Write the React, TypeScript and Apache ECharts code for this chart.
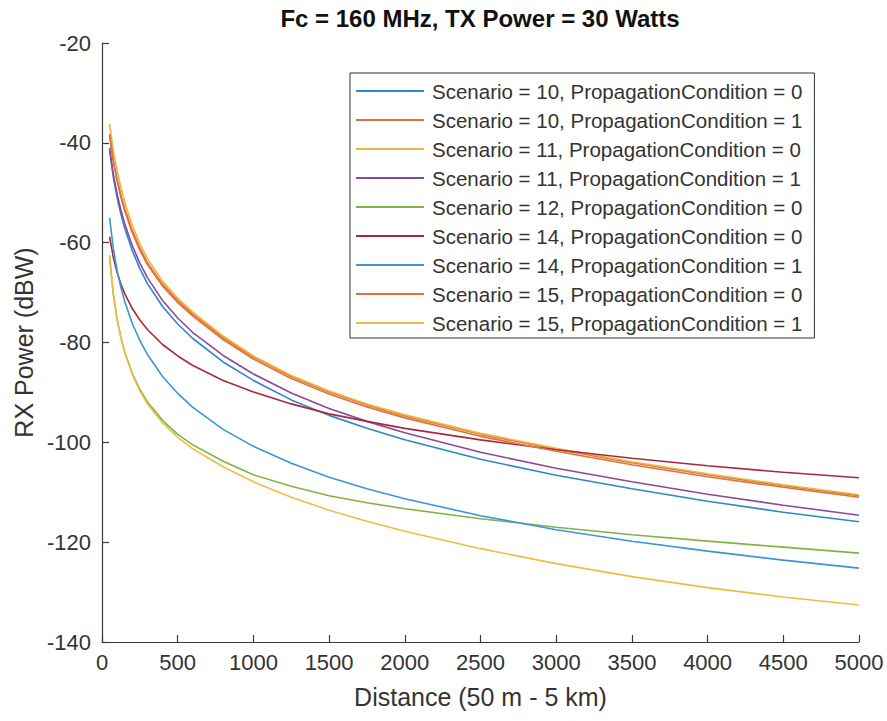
import React, { useEffect, useRef } from "react";
import * as echarts from "echarts";

const distances = [50, 75, 100, 125, 150, 200, 250, 300, 400, 500, 600, 800, 1000, 1250, 1500, 1750, 2000, 2500, 3000, 3500, 4000, 4500, 5000];

const s10pc0 = [-41.5, -46.9, -51.0, -54.3, -57.1, -61.6, -65.2, -68.2, -72.8, -76.3, -79.2, -83.9, -87.6, -91.5, -94.6, -97.2, -99.5, -103.4, -106.6, -109.3, -111.8, -114.0, -115.9];
const s10pc1 = [-38.5, -43.6, -47.4, -50.6, -53.2, -57.6, -61.1, -64.0, -68.3, -71.6, -74.3, -79.0, -82.9, -86.8, -89.9, -92.5, -94.7, -98.4, -101.4, -104.1, -106.5, -108.7, -110.7];
const s11pc0 = [-36.2, -41.6, -45.6, -49.0, -51.9, -56.5, -60.2, -63.2, -67.7, -71.1, -73.9, -78.7, -82.7, -86.6, -89.7, -92.3, -94.5, -98.2, -101.2, -103.9, -106.3, -108.5, -110.5];
const s11pc1 = [-41.0, -46.3, -50.3, -53.5, -56.2, -60.6, -64.1, -67.0, -71.6, -75.1, -78.0, -82.6, -86.3, -90.1, -93.2, -95.8, -98.1, -102.0, -105.2, -107.9, -110.4, -112.6, -114.6];
const s12pc0 = [-63.0, -70.4, -75.4, -79.0, -81.9, -86.2, -89.4, -91.9, -95.6, -98.4, -100.5, -103.8, -106.5, -108.8, -110.7, -112.1, -113.3, -115.3, -117.0, -118.5, -119.8, -121.0, -122.2];
const s14pc0 = [-58.8, -63.0, -66.0, -68.3, -70.2, -73.2, -75.5, -77.4, -80.4, -82.7, -84.6, -87.6, -89.9, -92.3, -94.3, -95.8, -97.2, -99.5, -101.5, -103.2, -104.7, -106.0, -107.1];
const s14pc1 = [-55.0, -61.2, -65.6, -69.0, -71.8, -76.2, -79.6, -82.4, -86.8, -90.2, -93.0, -97.4, -100.8, -104.2, -107.0, -109.3, -111.3, -114.7, -117.5, -119.8, -121.8, -123.6, -125.2];
const s15pc0 = [-38.2, -43.6, -47.6, -50.9, -53.6, -58.0, -61.5, -64.4, -68.7, -72.0, -74.7, -79.4, -83.3, -87.2, -90.3, -92.9, -95.1, -98.8, -101.8, -104.5, -106.9, -109.0, -111.0];
const s15pc1 = [-62.5, -70.2, -75.4, -79.1, -82.0, -86.4, -89.7, -92.3, -96.1, -99.0, -101.3, -104.9, -107.9, -111.0, -113.6, -115.8, -117.8, -121.3, -124.3, -126.9, -129.1, -131.0, -132.6];

const seriesNames = [
  "Scenario = 10, PropagationCondition = 0",
  "Scenario = 10, PropagationCondition = 1",
  "Scenario = 11, PropagationCondition = 0",
  "Scenario = 11, PropagationCondition = 1",
  "Scenario = 12, PropagationCondition = 0",
  "Scenario = 14, PropagationCondition = 0",
  "Scenario = 14, PropagationCondition = 1",
  "Scenario = 15, PropagationCondition = 0",
  "Scenario = 15, PropagationCondition = 1",
];
const seriesValues = [s10pc0, s10pc1, s11pc0, s11pc1, s12pc0, s14pc0, s14pc1, s15pc0, s15pc1];
const seriesColors = ["#2f86cc", "#e0703d", "#ecb83a", "#8a4a9c", "#7fb342", "#a8293f", "#3a96d6", "#e0703d", "#efbd45"];

const titleText = "Fc = 160 MHz, TX Power = 30 Watts";
const xName = "Distance (50 m - 5 km)";
const yName = "RX Power (dBW)";

const FONT = "'Liberation Sans', Arial, Helvetica, sans-serif";
const TXT = "#333333";
const AX = "#3a3a3a";

export default function App() {
  const ref = useRef<HTMLDivElement>(null);
  useEffect(() => {
    if (!ref.current) return;
    const chart = echarts.init(ref.current, undefined, { renderer: "svg" });
    chart.setOption({
      animation: false,
      backgroundColor: "#ffffff",
      textStyle: { fontFamily: FONT },
      title: {
        text: titleText,
        left: 480,
        top: 6,
        padding: 0,
        textAlign: "center",
        textStyle: { fontFamily: FONT, fontSize: 24, fontWeight: "bold", color: "#111111" },
      },
      grid: { left: 102, right: 28, top: 43, bottom: 79, containLabel: false },
      legend: {
        orient: "vertical",
        left: 350,
        top: 73,
        padding: [6, 12, 3, 6],
        itemGap: 5,
        itemWidth: 68,
        itemHeight: 2,
        icon: "rect",
        backgroundColor: "#ffffff",
        borderColor: "#333333",
        borderWidth: 1,
        textStyle: { fontFamily: FONT, fontSize: 20.5, color: TXT, lineHeight: 24, padding: [0, 0, 0, 3] },
        data: seriesNames,
      },
      xAxis: {
        type: "value",
        min: 0,
        max: 5000,
        interval: 500,
        name: xName,
        nameLocation: "middle",
        nameGap: 42,
        nameTextStyle: { fontFamily: FONT, fontSize: 25, color: TXT },
        axisLine: { show: true, onZero: false, lineStyle: { color: AX, width: 1.2 } },
        axisTick: { show: true, inside: true, length: 7, lineStyle: { color: AX, width: 1.2 } },
        axisLabel: { margin: 9, fontFamily: FONT, fontSize: 22, color: TXT, formatter: (v: number) => String(v) },
        splitLine: { show: false },
      },
      yAxis: {
        type: "value",
        min: -140,
        max: -20,
        interval: 20,
        name: yName,
        nameLocation: "middle",
        nameGap: 65,
        nameTextStyle: { fontFamily: FONT, fontSize: 25, color: TXT },
        axisLine: { show: true, onZero: false, lineStyle: { color: AX, width: 1.2 } },
        axisTick: { show: true, inside: true, length: 7, lineStyle: { color: AX, width: 1.2 } },
        axisLabel: { margin: 11, fontFamily: FONT, fontSize: 22, color: TXT, formatter: (v: number) => String(v) },
        splitLine: { show: false },
      },
      series: seriesNames.map((name, i) => ({
        name,
        type: "line",
        data: distances.map((d, j) => [d, seriesValues[i][j]]),
        symbol: "none",
        showSymbol: false,
        smooth: false,
        color: seriesColors[i],
        itemStyle: { color: seriesColors[i] },
        lineStyle: { width: 1.6, color: seriesColors[i] },
      })),
    });
    return () => chart.dispose();
  }, []);
  return (
    <div
      ref={ref}
      style={{ position: "fixed", left: 0, top: 0, width: 887, height: 721, background: "#fff" }}
    />
  );
}
